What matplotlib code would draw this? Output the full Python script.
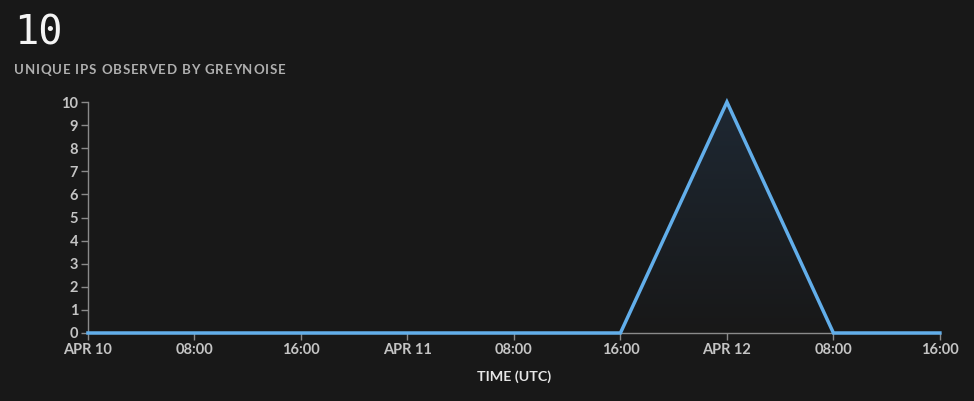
import matplotlib
matplotlib.use('Agg')
import matplotlib.pyplot as plt
import matplotlib.dates as mdates
import numpy as np
import pandas as pd
from matplotlib.patches import Polygon
from matplotlib.colors import LinearSegmentedColormap

# data - 8 hourly buckets
times = pd.date_range('2024-04-10 00:00', '2024-04-12 16:00', freq='8h')
counts = [0, 0, 0, 0, 0, 0, 10, 0, 0]
total = 10
title_text = 'UNIQUE IPS OBSERVED BY GREYNOISE'
xlabel_text = 'TIME (UTC)'

bg = '#181818'
line_col = '#62aeea'
axis_col = '#8a8a8a'
text_col = '#c4c4c4'

fig = plt.figure(figsize=(9.74, 4.01), dpi=100, facecolor=bg)
ax = fig.add_axes([0.0903, 0.1696, 0.8747, 0.576], facecolor=bg)
renderer = fig.canvas.get_renderer()


def spaced_text(x_px, y_px, s, spacing, **kw):
    # draw text one char at a time to get letter spacing (pixel coords)
    pos = x_px
    for ch in s:
        t = fig.text(pos / 974, y_px / 401, ch, **kw)
        w = t.get_window_extent(renderer).width
        if ch == ' ':
            w = fig.text(0, 0, 'a a', alpha=0, **kw).get_window_extent(renderer).width - \
                fig.text(0, 0, 'aa', alpha=0, **kw).get_window_extent(renderer).width
        pos += w + spacing
    return pos


x = mdates.date2num(times.to_pydatetime())
y = np.array(counts, dtype=float)

# gradient fill under the line
grad = np.linspace(0, 1, 256).reshape(-1, 1)
cmap = LinearSegmentedColormap.from_list('g', [bg, '#1e2833'])
im = ax.imshow(grad, extent=[x[0], x[-1], 0, 10], aspect='auto',
               cmap=cmap, origin='lower', zorder=1)
poly = Polygon(np.column_stack([np.r_[x[0], x, x[-1]], np.r_[0, y, 0]]),
               closed=True, transform=ax.transData, facecolor='none', edgecolor='none')
ax.add_patch(poly)
im.set_clip_path(poly)

ax.plot(x, y, color=line_col, lw=2.5, zorder=3, solid_joinstyle='miter', clip_on=False)

ax.set_xlim(x[0], x[-1])
ax.set_ylim(0, 10)
ax.set_yticks(range(0, 11))
ax.set_xticks(x)


def fmt(v, pos):
    d = mdates.num2date(v)
    if d.hour == 0:
        return d.strftime('%b %d').upper()
    return d.strftime('%H:%M')


ax.xaxis.set_major_formatter(plt.FuncFormatter(fmt))

for s in ['top', 'right']:
    ax.spines[s].set_visible(False)
for s in ['left', 'bottom']:
    ax.spines[s].set_color(axis_col)
    ax.spines[s].set_linewidth(1)
ax.tick_params(colors=axis_col, length=5, width=1, pad=2)
for lab in ax.get_xticklabels() + ax.get_yticklabels():
    lab.set_color(text_col)
    lab.set_fontfamily('Lato')
    lab.set_fontsize(10.5)
    lab.set_fontweight('bold')

ax.set_xlabel(xlabel_text, color='#e6e6e6', fontfamily='Lato', fontsize=10.3,
              fontweight='bold', labelpad=10)

fig.text(0.014, 0.89, str(total), color='#f4f4f4', fontfamily='DejaVu Sans Mono',
         fontsize=29, va='baseline')
spaced_text(14, 401 * 0.815, title_text, 0.8, color='#b0b0b0', fontfamily='Lato',
            fontsize=9.5, fontweight='bold', va='baseline')

fig.savefig('out.png', dpi=100, facecolor=bg)
